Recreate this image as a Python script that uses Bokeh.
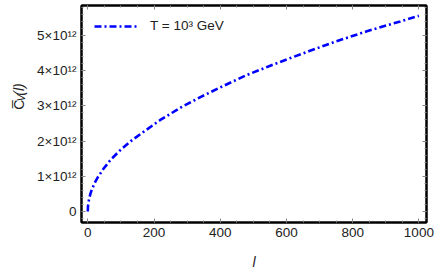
import numpy as np
from bokeh.plotting import figure
from bokeh.layouts import row
from bokeh.models import (Range1d, LinearAxis, FixedTicker, Label, Legend, LegendItem)
from bokeh.embed import file_html
from bokeh.resources import INLINE

# data (C_V in units of 1e12)
l_vals = [0, 0.5, 1, 2, 4, 7.5, 12, 23, 30, 48, 70, 98, 130, 159, 219, 280,
          340, 410, 481, 551, 612, 667, 743, 843, 944, 1000]
cv_1e12 = [0, 0.13, 0.18, 0.25, 0.35, 0.49, 0.62, 0.85, 0.97, 1.22, 1.48, 1.74,
           2.00, 2.20, 2.60, 2.95, 3.25, 3.57, 3.88, 4.14, 4.36, 4.55, 4.81,
           5.12, 5.40, 5.56]
x_ticks = [0, 200, 400, 600, 800, 1000]
y_ticks = [0, 1, 2, 3, 4, 5]
y_tick_labels = ["0", "1\u00d710\u00b9\u00b2", "2\u00d710\u00b9\u00b2", "3\u00d710\u00b9\u00b2",
                 "4\u00d710\u00b9\u00b2", "5\u00d710\u00b9\u00b2"]
legend_label = "T = 10\u00b3 GeV"
y_label_parts = ["C\u0305", "V", "(l)"]

FONT = "Liberation Sans"
LAB_W = 30

# narrow strip that carries the rotated y-axis label
lab = figure(width=LAB_W, height=273, output_backend="svg", toolbar_location=None,
             x_range=Range1d(0, LAB_W), y_range=Range1d(273, 0),
             x_axis_location=None, y_axis_location=None,
             min_border=0, min_border_left=0, min_border_right=0,
             min_border_top=0, min_border_bottom=0)
lab.grid.visible = False
lab.outline_line_color = None
lab.background_fill_color = "white"
lab.border_fill_color = "white"
lab_kw = dict(angle=np.pi / 2, text_font=FONT, text_color="#222222",
              text_baseline="alphabetic", text_align="left")
lab.add_layout(Label(x=18.5, y=131, text=y_label_parts[0], text_font_size="14px", **lab_kw))
lab.add_layout(Label(x=21, y=120.5, text=y_label_parts[1], text_font_size="10px",
                     text_font_style="italic", **lab_kw))
lab.add_layout(Label(x=18.5, y=113.5, text=y_label_parts[2], text_font_size="14px",
                     text_font_style="italic", **lab_kw))

p = figure(width=436 - LAB_W, height=273, output_backend="svg", toolbar_location=None,
           x_range=Range1d(-19, 1023), y_range=Range1d(-0.3125, 5.852),
           x_axis_location=None, y_axis_location=None,
           min_border_left=81 - LAB_W, min_border_right=10, min_border_top=5,
           min_border_bottom=51)
p.grid.visible = False
p.outline_line_color = "black"
p.outline_line_width = 2
p.background_fill_color = "white"
p.border_fill_color = "white"

def style_axis(ax, ticks, minor, labels=True):
    ax.ticker = FixedTicker(ticks=ticks, minor_ticks=minor)
    ax.axis_line_color = "black"
    ax.axis_line_width = 2
    ax.major_tick_in = 4
    ax.major_tick_out = 0
    ax.minor_tick_in = 2
    ax.minor_tick_out = 0
    ax.major_tick_line_color = "#888888"
    ax.minor_tick_line_color = "#888888"
    ax.major_tick_line_width = 1
    ax.minor_tick_line_width = 1
    if labels:
        ax.major_label_text_font = FONT
        ax.major_label_text_font_size = "13.5px"
        ax.major_label_text_color = "#222222"
    else:
        ax.major_label_overrides = {t: "" for t in ticks}
        ax.major_label_text_font_size = "0px"
        ax.major_label_standoff = 0
        ax.axis_label_standoff = 0

xminor = list(np.arange(0, 1025, 50))
yminor = [v / 5 for v in range(-1, 30)]

xb = LinearAxis()
style_axis(xb, x_ticks, xminor)
xb.major_label_standoff = 5
xb.axis_label = "l"
xb.axis_label_text_font = FONT
xb.axis_label_text_font_style = "italic"
xb.axis_label_text_font_size = "14px"
xb.axis_label_text_color = "#222222"
xb.axis_label_standoff = 14
p.add_layout(xb, "below")

yl = LinearAxis()
style_axis(yl, y_ticks, yminor)
yl.major_label_overrides = {t: s for t, s in zip(y_ticks, y_tick_labels)}
yl.major_label_standoff = 5
p.add_layout(yl, "left")

xt = LinearAxis()
style_axis(xt, x_ticks, xminor, labels=False)
p.add_layout(xt, "above")
yr = LinearAxis()
style_axis(yr, y_ticks, yminor, labels=False)
p.add_layout(yr, "right")

r = p.line(l_vals, cv_1e12, line_color="#0000ff", line_width=2.6, line_dash="7 3 2 3")

legend = Legend(items=[LegendItem(label=legend_label, renderers=[r])], location="top_left")
legend.background_fill_alpha = 0
legend.border_line_alpha = 0
legend.margin = 5
legend.padding = 8
legend.glyph_width = 44
legend.glyph_height = 14
legend.label_height = 14
legend.label_standoff = 12
legend.label_text_font = FONT
legend.label_text_font_size = "13.5px"
legend.label_text_color = "#222222"
p.add_layout(legend)

layout = row(lab, p, spacing=0)
open("out.html", "w").write(file_html(layout, INLINE))
